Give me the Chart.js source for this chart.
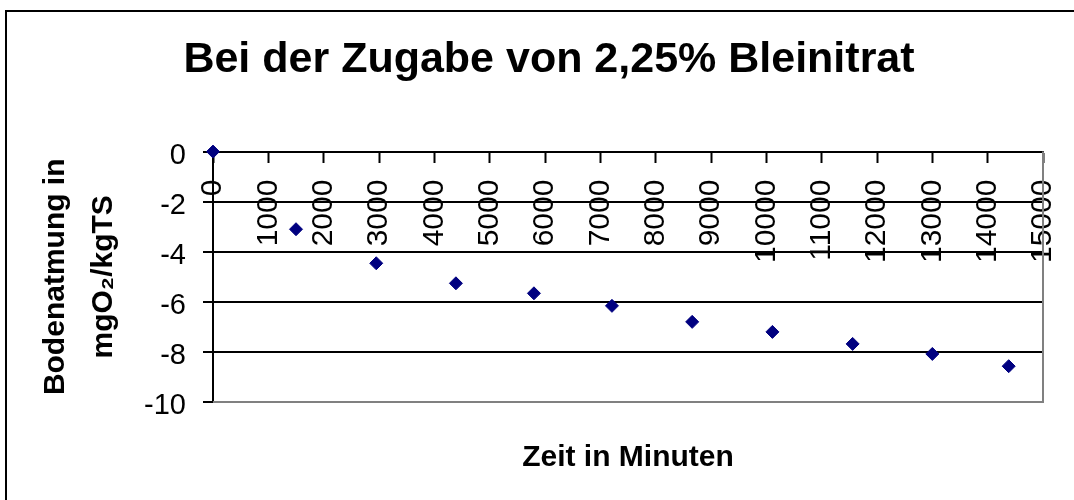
<!DOCTYPE html>
<html>
<head>
<meta charset="utf-8">
<title>Bei der Zugabe von 2,25% Bleinitrat</title>
<script src="https://cdn.jsdelivr.net/npm/chart.js@4.4.1/dist/chart.umd.min.js"></script>
<style>
  html, body { margin: 0; padding: 0; background: #fff; overflow: hidden; }
  #frame { position: absolute; left: 5px; top: 10px; width: 1084px; height: 500px; border: 2px solid #000; }
  canvas { display: block; }
</style>
</head>
<body>
<div id="frame"><canvas id="chart" width="1084" height="500"></canvas></div>
<script>
// Zeit (Minuten) und Bodenatmung (mgO2/kgTS)
const zeit = [0, 1500, 2950, 4390, 5800, 7210, 8660, 10110, 11560, 13000, 14380];
const atmung = [0, -3.1, -4.46, -5.26, -5.66, -6.16, -6.8, -7.2, -7.68, -8.08, -8.57];

const titel = 'Bei der Zugabe von 2,25% Bleinitrat';
const xTitel = 'Zeit in Minuten';
const yTitel = ['Bodenatmung in', 'mgO\u2082/kgTS'];

// Achsenbereiche
const xMin = 0, xMax = 15000, xStep = 1000;
const yMin = -10, yMax = 0, yStep = 2;

const family = "'Liberation Sans', Arial, sans-serif";

// grauer Rahmen rechts und unten an der Zeichenfläche
const plotBorder = {
  id: 'plotBorder',
  afterDraw(chart) {
    const {ctx, chartArea: a} = chart;
    ctx.save();
    ctx.strokeStyle = '#808080';
    ctx.lineWidth = 2;
    ctx.beginPath();
    ctx.moveTo(a.right, a.top);
    ctx.lineTo(a.right, a.bottom);
    ctx.lineTo(a.left, a.bottom);
    ctx.stroke();
    ctx.restore();
  }
};

new Chart(document.getElementById('chart').getContext('2d'), {
  type: 'scatter',
  data: {
    datasets: [{
      data: zeit.map((x, i) => ({x: x, y: atmung[i]})),
      showLine: false,
      pointStyle: 'rectRot',
      pointRadius: 6.5,
      pointBorderWidth: 1,
      backgroundColor: '#000080',
      borderColor: '#000080',
      clip: false
    }]
  },
  options: {
    responsive: false,
    animation: false,
    devicePixelRatio: 1,
    layout: {padding: 0},
    plugins: {
      legend: {display: false},
      tooltip: {enabled: false},
      title: {
        display: true, text: titel, color: '#000',
        font: {family: family, size: 43, weight: 'bold', lineHeight: 1.2},
        padding: {top: 22, bottom: 66}
      },
      subtitle: {
        display: true, text: xTitel, position: 'bottom', fullSize: false, color: '#000',
        font: {family: family, size: 30, weight: 'bold', lineHeight: 1.2},
        padding: {top: 38, bottom: 36}
      }
    },
    scales: {
      x: {
        type: 'linear',
        position: {y: 0},
        min: xMin, max: xMax,
        afterFit: s => { s.height = 0; s.paddingLeft = 0; s.paddingRight = 48; },
        border: {color: '#000', width: 2},
        grid: {drawOnChartArea: false, tickLength: 10, tickWidth: 2, tickColor: '#000'},
        ticks: {
          stepSize: xStep, minRotation: 90, maxRotation: 90, autoSkip: false,
          padding: 18, color: '#000',
          font: {family: family, size: 30},
          format: {useGrouping: false}
        }
      },
      y: {
        type: 'linear',
        position: 'left',
        min: yMin, max: yMax,
        afterFit: s => { s.width = 206; },
        border: {color: '#000', width: 2},
        grid: {
          color: c => (c.tick && c.tick.value === yMin) ? 'rgba(0,0,0,0)' : '#000',
          lineWidth: 2, tickLength: 10, tickWidth: 2, tickColor: '#000'
        },
        ticks: {
          stepSize: yStep, padding: 17, labelOffset: 4, color: '#000',
          font: {family: family, size: 29}
        },
        title: {
          display: true, text: yTitel, color: '#000',
          font: {family: family, size: 30, weight: 'bold', lineHeight: 1.6},
          padding: {top: 25, bottom: 0}
        }
      }
    }
  },
  plugins: [plotBorder]
});
</script>
</body>
</html>
